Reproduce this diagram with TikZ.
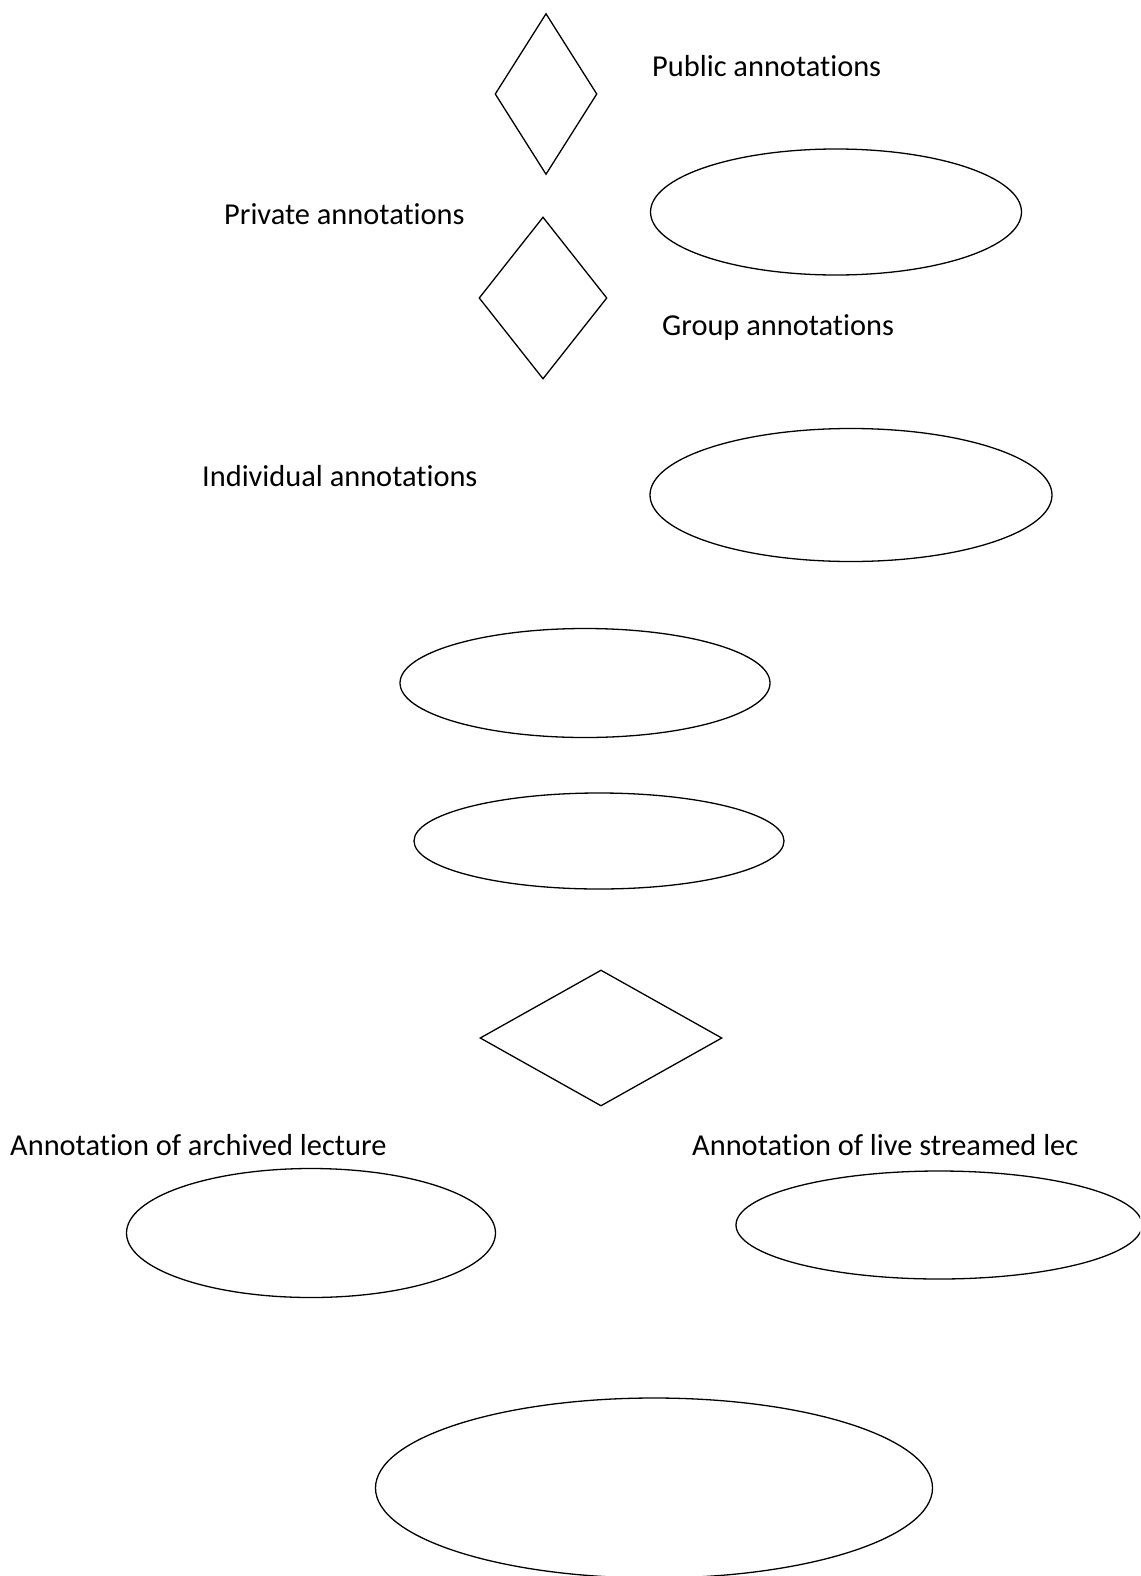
\documentclass[tikz,border=0pt]{standalone}
\usepackage{fontspec}
\setmainfont{Carlito}[Ligatures={NoCommon}]
\usetikzlibrary{shapes.geometric}
\definecolor{Ink}{HTML}{000000}
\tikzset{
  choicebox/.style={draw=Ink,diamond,inner sep=0pt,line width=1.3pt},
  entitybox/.style={draw=Ink,ellipse,inner sep=0pt,line width=1.3pt},
  labeltext/.style={anchor=west,inner sep=0pt,text=Ink,font=\fontsize{30.4}{36}\selectfont}
}
\begin{document}
\begin{tikzpicture}[x=1pt,y=-1pt]
  \clip (0,0) rectangle (1140,1576);
  \node[choicebox,minimum width=102pt,minimum height=161pt] (pubchoice) at (546,94) {};
  \node[labeltext] (public) at (652,66) {Public annotations};
  \node[entitybox,minimum width=371pt,minimum height=126pt] (pubent) at (836,212) {};
  \node[labeltext] (private) at (224,214) {Private annotations};
  \node[choicebox,minimum width=128pt,minimum height=162pt] (grpchoice) at (543,298) {};
  \node[labeltext] (group) at (662,327) {Group annotations};
  \node[labeltext] (indiv) at (202,476) {Individual annotations};
  \node[entitybox,minimum width=402pt,minimum height=133pt] (grpent) at (851,495) {};
  \node[entitybox,minimum width=370pt,minimum height=109pt] (privent) at (585,683) {};
  \node[entitybox,minimum width=370pt,minimum height=96pt] (indivent) at (599,841) {};
  \node[choicebox,minimum width=242pt,minimum height=136pt] (lecchoice) at (601,1038) {};
  \node[labeltext] (archived) at (10,1145) {Annotation of archived lecture};
  \node[labeltext] (live) at (692,1145) {Annotation of live streamed lec};
  \node[entitybox,minimum width=369pt,minimum height=129pt] (archent) at (311,1233) {};
  \node[entitybox,minimum width=406pt,minimum height=108pt] (liveent) at (939,1225) {};
  \node[entitybox,minimum width=557pt,minimum height=180pt] (lecture) at (654,1488) {};
\end{tikzpicture}
\end{document}
